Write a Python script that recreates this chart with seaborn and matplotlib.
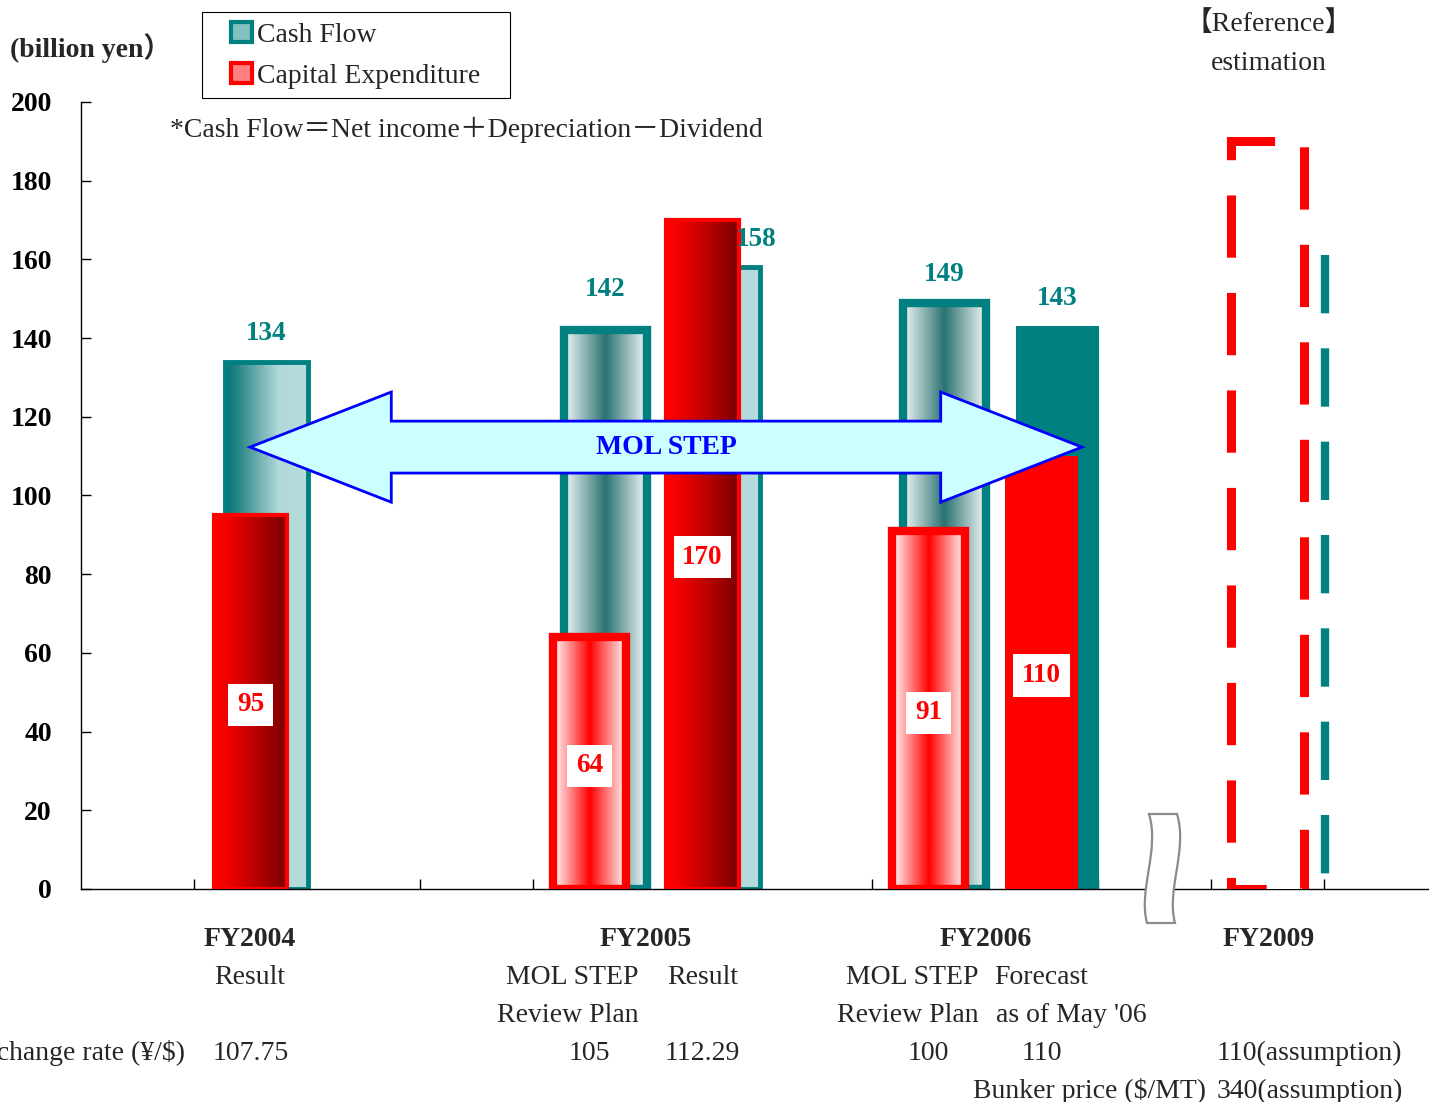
import numpy as np
import pandas as pd
import matplotlib
matplotlib.use("Agg")
import matplotlib.pyplot as plt
import matplotlib.transforms as mtransforms
import seaborn as sns
from matplotlib.colors import LinearSegmentedColormap
from matplotlib.patches import Polygon, PathPatch, Patch, Rectangle
from matplotlib.path import Path

# data (billion yen)
cases = ["FY2004 Result", "FY2005 Review Plan", "FY2005 Result",
         "FY2006 Review Plan", "FY2006 Forecast", "FY2009 Estimation"]
cash_flow = [134, 142, 158, 149, 143, 161]
capex = [95, 64, 170, 91, 110, 190]
cf_labels = ["134", "142", "158", "149", "143", ""]
capex_labels = ["95", "64", "170", "91", "110", ""]
fy_labels = ["FY2004", "FY2005", "FY2006", "FY2009"]
fx_rates = ["107.75", "105", "112.29", "100", "110"]
fx_2009 = "110(assumption)"
bunker_2009 = "340(assumption)"

# layout: slot of each case on a 12-slot axis, and how it is drawn
slot = [1, 4, 5, 7, 8, 10]
style = ["side", "tube", "side", "tube", "solid", "dashed"]

TEAL = "#008080"
RED = "#ff0000"
W, H = 1429, 1102

sns.set_style("ticks")
plt.rcParams["font.family"] = ["Liberation Serif", "Noto Sans CJK JP"]
plt.rcParams["font.size"] = 20

df = pd.DataFrame({"case": cases, "slot": slot, "cash_flow": cash_flow, "capex": capex})
df["cf_x"] = df["slot"] + 0.64
df["cx_x"] = df["slot"] + 0.50

fig = plt.figure(figsize=(W / 100, H / 100), dpi=100)
ax = fig.add_axes([81 / W, 213 / H, 1348 / W, 787 / H])

sns.barplot(data=df, x="cf_x", y="cash_flow", native_scale=True, width=0.73,
            color=TEAL, errorbar=None, ax=ax, zorder=2)
sns.barplot(data=df, x="cx_x", y="capex", native_scale=True, width=0.65,
            color=RED, errorbar=None, ax=ax, zorder=3)
cf_bars = ax.containers[0].patches
cx_bars = ax.containers[1].patches

grads = {
    "cf_side": LinearSegmentedColormap.from_list(
        "cfs", [(0, "#047676"), (0.12, "#1e7f7f"), (0.65, "#b2d9d9"), (1, "#b6dcdc")]),
    "cx_side": LinearSegmentedColormap.from_list(
        "cxs", [(0, "#ff0000"), (0.18, "#f20000"), (1, "#780000")]),
    "cf_tube": LinearSegmentedColormap.from_list(
        "cft", [(0, "#f3f6f6"), (0.5, "#2a7272"), (1, "#f3f6f6")]),
    "cx_tube": LinearSegmentedColormap.from_list(
        "cxt", [(0, "#ffffff"), (0.5, "#ff0000"), (1, "#ffffff")]),
}
ramp = np.linspace(0, 1, 256).reshape(1, -1)


def fill_gradient(bar, cmap):
    x0, w, h = bar.get_x(), bar.get_width(), bar.get_height()
    im = ax.imshow(ramp, cmap=cmap, extent=[x0, x0 + w, 0, h], aspect="auto",
                   interpolation="bilinear", zorder=bar.get_zorder() - 0.05)
    im.set_clip_path(bar)


for bar, st in zip(cf_bars, style):
    bar.set_edgecolor(TEAL)
    if st == "side":
        bar.set_facecolor("none")
        bar.set_linewidth(3.5)
        fill_gradient(bar, grads["cf_side"])
    elif st == "tube":
        bar.set_facecolor("none")
        bar.set_linewidth(6)
        fill_gradient(bar, grads["cf_tube"])
    elif st == "solid":
        bar.set_facecolor(TEAL)
        bar.set_linewidth(0)
    else:
        # estimate: only the right edge shows past the capex outline
        bar.set_facecolor("none")
        bar.set_linewidth(0)
        xr = bar.get_x() + bar.get_width()
        ax.vlines(xr, bar.get_height(), 0, colors=TEAL, lw=6,
                  linestyles=[(0, (7, 4.2))], zorder=2)

for bar, st in zip(cx_bars, style):
    bar.set_edgecolor(RED)
    if st == "side":
        bar.set_facecolor("none")
        bar.set_linewidth(3)
        fill_gradient(bar, grads["cx_side"])
    elif st == "tube":
        bar.set_facecolor("none")
        bar.set_linewidth(6)
        fill_gradient(bar, grads["cx_tube"])
    elif st == "solid":
        bar.set_facecolor(RED)
        bar.set_linewidth(0)
    else:
        bar.set_facecolor("white")
        bar.set_linewidth(6.5)
        bar.set_linestyle((3.0, (6.9, 3.9)))

# value labels
nudge = {1: (0, 9), 2: (27, 0)}
for i, (bar, lab) in enumerate(zip(cf_bars, cf_labels)):
    if not lab:
        continue
    dx, dy = nudge.get(i, (0, 0))
    ax.annotate(lab, (bar.get_x() + bar.get_width() / 2, bar.get_height()),
                xytext=(dx, 20 + dy), textcoords="offset points", ha="center",
                va="center", color=TEAL, fontweight="bold", fontsize=19.5, zorder=7)
for bar, lab in zip(cx_bars, capex_labels):
    if not lab:
        continue
    ax.annotate(lab, (bar.get_x() + bar.get_width() / 2, bar.get_height() / 2),
                xytext=(0, -2), textcoords="offset points",
                ha="center", va="center", color=RED, fontweight="bold", fontsize=19.5,
                zorder=7, bbox=dict(boxstyle="square,pad=0.32", fc="white", ec="none"))

# MOL STEP double arrow
xl, xr, ym = 1.496, 8.858, 112.3
sh, hh, hl = 6.6, 14.0, 1.25
arrow_pts = [(xl, ym), (xl + hl, ym + hh), (xl + hl, ym + sh), (xr - hl, ym + sh),
             (xr - hl, ym + hh), (xr, ym), (xr - hl, ym - hh), (xr - hl, ym - sh),
             (xl + hl, ym - sh), (xl + hl, ym - hh)]
ax.add_patch(Polygon(arrow_pts, closed=True, fc="#ccffff", ec="#0000ff", lw=2, zorder=5))
ax.text((xl + xr) / 2, ym, "MOL STEP", ha="center", va="center", color="#0000ff",
        fontweight="bold", fontsize=20, zorder=6)


# axis break mark (drawn in pixel space of the reference, mapped to data)
def px(x, y):
    return ((x - 81) / 113, (889 - y) / 3.935)


verts = [px(1149, 814), px(1177, 814),
         px(1188, 850), px(1166, 890), px(1175, 923),
         px(1147, 923),
         px(1138, 890), px(1160, 850), px(1149, 814),
         px(1149, 814)]
codes = [Path.MOVETO, Path.LINETO,
         Path.CURVE4, Path.CURVE4, Path.CURVE4,
         Path.LINETO,
         Path.CURVE4, Path.CURVE4, Path.CURVE4,
         Path.CLOSEPOLY]
ax.add_patch(PathPatch(Path(verts, codes), fc="white", ec="#8a8a8a", lw=1.6,
                       clip_on=False, zorder=6))

# axes styling
ax.set_xlim(0, 1348 / 113)
ax.set_ylim(0, 200)
ax.set_xlabel("")
ax.set_ylabel("")
ax.set_yticks(range(0, 201, 20))
ax.set_yticklabels([str(v) for v in range(0, 201, 20)], fontweight="bold", fontsize=20)
ax.set_xticks(range(1, 12))
ax.set_xticklabels([])
ax.tick_params(axis="y", direction="in", length=7, width=1, pad=21, colors="black")
ax.tick_params(axis="x", direction="in", length=7, width=1, colors="black")
for s in ["top", "right"]:
    ax.spines[s].set_visible(False)
for s in ["left", "bottom"]:
    ax.spines[s].set_color("black")
    ax.spines[s].set_linewidth(1)

# legend
handles = [Patch(fc="#80c0c0", ec=TEAL, lw=3, label="Cash Flow"),
           Patch(fc="#ff8080", ec=RED, lw=3, label="Capital Expenditure")]
fig.legend(handles=handles, loc="upper left", bbox_to_anchor=(231 / W, 1 - 22 / H),
           frameon=False, borderpad=0, borderaxespad=0, handlelength=0.75,
           handleheight=0.75, handletextpad=0.2, labelspacing=0.55, fontsize=20)
fig.add_artist(Rectangle((202 / W, 1 - 98 / H), 308 / W, 86 / H, transform=fig.transFigure,
                         fill=False, ec="black", lw=0.8))

# texts around the plot
fig.text(10 / W, 1 - 48 / H, "(billion yen）", ha="left", va="center", fontweight="bold")
fig.text(170 / W, 1 - 130 / H, "*Cash Flow＝Net income＋Depreciation－Dividend",
         ha="left", va="center")

tr = mtransforms.blended_transform_factory(ax.transData, fig.transFigure)
row = [1 - 939 / H, 1 - 977 / H, 1 - 1015 / H, 1 - 1053 / H, 1 - 1091 / H]

ax.text(10.51, 1 - 24 / H, "【Reference】", transform=tr, ha="center", va="center")
ax.text(10.51, 1 - 63 / H, "estimation", transform=tr, ha="center", va="center")

for x, lab in zip([1.49, 5.0, 8.01, 10.51], fy_labels):
    ax.text(x, row[0], lab, transform=tr, ha="center", va="center", fontweight="bold")

sub = [(1.49, 1, "Result"), (4.35, 1, "MOL STEP"), (5.50, 1, "Result"),
       (4.31, 2, "Review Plan"), (7.36, 1, "MOL STEP"), (8.50, 1, "Forecast"),
       (7.32, 2, "Review Plan"), (8.76, 2, "as of May '06")]
for x, r, lab in sub:
    ax.text(x, row[r], lab, transform=tr, ha="center", va="center")

ax.text(0.92, row[3], "Exchange rate (¥/$)", transform=tr, ha="right", va="center")
for s, rate in zip(slot[:5], fx_rates):
    ax.text(s + 0.5, row[3], rate, transform=tr, ha="center", va="center")
ax.text(10.05, row[3], fx_2009, transform=tr, ha="left", va="center")
ax.text(9.96, row[4], "Bunker price ($/MT)", transform=tr, ha="right", va="center")
ax.text(10.05, row[4], bunker_2009, transform=tr, ha="left", va="center")

fig.savefig("out.png", dpi=100)
